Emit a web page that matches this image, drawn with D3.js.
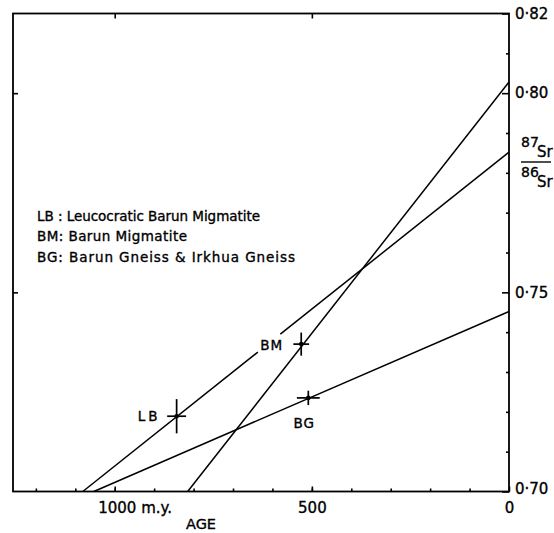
<!DOCTYPE html>
<html>
<head>
<meta charset="utf-8">
<script src="https://cdn.jsdelivr.net/npm/d3@7"></script>
<style>
  body { margin: 0; background: #fff; }
  svg { display: block; }
  text { font-family: "DejaVu Sans", sans-serif; fill: #000; stroke: #000; stroke-width: 0.35; }
</style>
</head>
<body>
<div id="chart"></div>
<script>
// Sr evolution diagram, age (m.y.) vs 87Sr/86Sr

// samples with error crosses
const samples = ["LB", "BM", "BG"];
const sampleAge = [843, 527, 509];
const sampleRatio = [0.7189, 0.7370, 0.7235];
const ageErr = [24, 20, 29];
const ratioErr = [0.0043, 0.0029, 0.0018];

// evolution lines: age at which ratio = 0.70, ratio at present day
const lineStartAge = [1081, 815, 1053];
const lineEndRatio = [0.7852, 0.8028, 0.7452];
const lbLineGap = [637, 580]; // broken round the "BM" label

// axes
const ageLabels = [1000, 500, 0];
const ageMinor = [1200, 1100, 1000, 900, 800, 700, 600, 500, 400, 300, 200, 100];
const ratioLabels = [0.70, 0.75, 0.80, 0.82];
const ratioMinor = [0.71, 0.72, 0.73, 0.74, 0.76, 0.77, 0.78, 0.79, 0.81];

const legendLines = ["LB : Leucocratic Barun Migmatite", "BM: Barun Migmatite", "BG: Barun Gneiss & Irkhua Gneiss"];

const W = 554, H = 533;
const svg = d3.select("#chart").append("svg")
    .attr("width", W).attr("height", H);

const x = d3.scaleLinear().domain([1258, 0]).range([13, 509]);
const y = d3.scaleLinear().domain([0.70, 0.82]).range([491.5, 13.5]);

// frame
svg.append("rect")
    .attr("x", x.range()[0]).attr("y", y.range()[1])
    .attr("width", x.range()[1] - x.range()[0])
    .attr("height", y.range()[0] - y.range()[1])
    .attr("fill", "none").attr("stroke", "#000").attr("stroke-width", 1.8);

function styleAxis(g) {
    g.select(".domain").remove();
    g.selectAll("line").attr("stroke", "#000").attr("stroke-width", 1.6);
    g.selectAll("text").attr("font-family", "DejaVu Sans").attr("font-size", 15);
}

// right axis
svg.append("g").attr("transform", `translate(${x.range()[1]},0)`)
    .call(d3.axisRight(y).tickValues(ratioMinor).tickSize(-3).tickFormat(""))
    .call(styleAxis);
svg.append("g").attr("transform", `translate(${x.range()[1]},0)`)
    .call(d3.axisRight(y).tickValues(ratioLabels).tickSize(-7).tickPadding(6)
        .tickFormat(d => d3.format(".2f")(d).replace(".", "·")))
    .call(styleAxis)
    .call(g => g.selectAll(".tick").filter(d => d === 0.70).select("text").attr("dy", "0.1em"));

// left axis
svg.append("g").attr("transform", `translate(${x.range()[0]},0)`)
    .call(d3.axisLeft(y).tickValues([0.75, 0.80]).tickSize(-5).tickFormat(""))
    .call(styleAxis);

// bottom axis
svg.append("g").attr("transform", `translate(0,${y.range()[0]})`)
    .call(d3.axisBottom(x).tickValues(ageMinor).tickSize(-3).tickFormat(""))
    .call(styleAxis);
svg.append("g").attr("transform", `translate(0,${y.range()[0]})`)
    .call(d3.axisBottom(x).tickValues(ageLabels).tickSize(-5).tickPadding(11)
        .tickFormat(d => d === 1000 ? "1000 m.y." : d))
    .call(styleAxis)
    .call(g => g.selectAll(".tick").filter(d => d === 1000).select("text")
        .attr("text-anchor", "start").attr("x", -17));

// top axis
svg.append("g").attr("transform", `translate(0,${y.range()[1]})`)
    .call(d3.axisTop(x).tickValues([1000, 500]).tickSize(-5).tickFormat(""))
    .call(styleAxis);

svg.append("text").attr("x", 201).attr("y", 529)
    .attr("text-anchor", "middle").attr("font-size", 14.5).text("AGE");

// 87Sr/86Sr label
const frac = svg.append("g").attr("transform", "translate(521,0)");
frac.append("text").attr("x", 0).attr("y", 147).attr("font-size", 14).text("87");
frac.append("text").attr("x", 16).attr("y", 157).attr("font-size", 15).text("Sr");
frac.append("line").attr("x1", 0).attr("x2", 30).attr("y1", 162).attr("y2", 162)
    .attr("stroke", "#000").attr("stroke-width", 1.4);
frac.append("text").attr("x", 0).attr("y", 177).attr("font-size", 14).text("86");
frac.append("text").attr("x", 16).attr("y", 187).attr("font-size", 15).text("Sr");

// evolution lines
const line = d3.line().x(d => x(d[0])).y(d => y(d[1]));
function ratioAt(i, age) {
    return lineEndRatio[i] - (lineEndRatio[i] - 0.70) * age / lineStartAge[i];
}
const segs = [];
samples.forEach((s, i) => {
    if (s === "LB") {
        segs.push([[lineStartAge[i], 0.70], [lbLineGap[0], ratioAt(i, lbLineGap[0])]]);
        segs.push([[lbLineGap[1], ratioAt(i, lbLineGap[1])], [0, lineEndRatio[i]]]);
    } else {
        segs.push([[lineStartAge[i], 0.70], [0, lineEndRatio[i]]]);
    }
});
svg.append("g").selectAll("path").data(segs).join("path")
    .attr("d", line).attr("fill", "none")
    .attr("stroke", "#000").attr("stroke-width", 1.5);

// error crosses
const pts = samples.map((s, i) => ({
    name: s, age: sampleAge[i], r: sampleRatio[i], ea: ageErr[i], er: ratioErr[i]
}));
const cross = svg.append("g").selectAll("g").data(pts).join("g");
cross.append("line")
    .attr("x1", d => x(d.age + d.ea)).attr("x2", d => x(d.age - d.ea))
    .attr("y1", d => y(d.r)).attr("y2", d => y(d.r))
    .attr("stroke", "#000").attr("stroke-width", 1.7);
cross.append("line")
    .attr("x1", d => x(d.age)).attr("x2", d => x(d.age))
    .attr("y1", d => y(d.r - d.er)).attr("y2", d => y(d.r + d.er))
    .attr("stroke", "#000").attr("stroke-width", 1.7);
cross.append("circle")
    .attr("cx", d => x(d.age)).attr("cy", d => y(d.r)).attr("r", 2.3).attr("fill", "#000");

// sample labels
const labelOff = { LB: [-16, 0, "end"], BM: [-18, 1, "end"], BG: [-4, 25, "middle"] };
cross.append("text")
    .attr("x", d => x(d.age) + labelOff[d.name][0])
    .attr("y", d => y(d.r) + labelOff[d.name][1])
    .attr("dy", "0.35em")
    .attr("text-anchor", d => labelOff[d.name][2])
    .attr("font-size", 13.5)
    .attr("letter-spacing", d => d.name === "LB" ? 3 : 1)
    .text(d => d.name);

// legend
const legendWidth = [223, 150, 258];
svg.append("g").selectAll("text").data(legendLines).join("text")
    .attr("x", 37)
    .attr("y", (d, i) => [221, 241, 262][i])
    .attr("font-size", 13.5)
    .attr("textLength", (d, i) => legendWidth[i])
    .attr("lengthAdjust", "spacing")
    .text(d => d);
</script>
</body>
</html>
